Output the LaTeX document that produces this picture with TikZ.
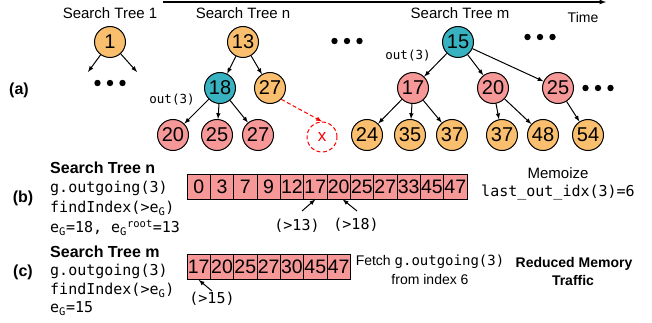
\documentclass[tikz,border=0pt]{standalone}
\usepackage{fontspec}
\setmainfont{Liberation Sans}
\setmonofont{DejaVu Sans Mono}

\definecolor{orangefill}{RGB}{249,191,110}
\definecolor{tuerkisfill}{RGB}{56,178,192}
\definecolor{rosafill}{RGB}{247,152,152}

\begin{document}
\begin{tikzpicture}[x=1pt,y=-1pt]
				% Einstellungen für Knoten, Kästchen und Texte
				\tikzset{
					knoten/.style={circle, draw=black, line width=1pt, minimum size=31pt, inner sep=0pt, font=\fontsize{20}{20}\selectfont}, % Kreis im Suchbaum
					orangeknoten/.style={knoten, fill=orangefill},
					tuerkisknoten/.style={knoten, fill=tuerkisfill},
					rosaknoten/.style={knoten, fill=rosafill},
					zelle/.style={draw=black, fill=rosafill, line width=0.8pt, minimum width=23.33pt, minimum height=25pt, inner sep=0pt, font=\fontsize{19.5}{19.5}\selectfont}, % Kästchen im Array
					kante/.style={-latex, line width=1pt}, % Pfeil im Baum
					titel/.style={font=\fontsize{15}{15}\selectfont, inner sep=0pt},
					fett/.style={font=\fontsize{16}{16}\selectfont\bfseries, inner sep=0pt},
					code/.style={font=\fontsize{15}{15}\selectfont\ttfamily, inner sep=0pt},
					punkt/.style={fill=black}
				}
				\useasboundingbox (0,0) rectangle (652,323);
				
				% Zeitachse
				\coordinate (zeitA) at (163,2);
				\coordinate (zeitB) at (606,2);
				\draw[-latex, line width=1.2pt] (zeitA) -- (zeitB);
				\node[titel, font=\fontsize{14}{14}\selectfont] (zeit) at (583,17) {Time};
				
				% Überschriften der Suchbäume
				\node[titel] (titel1) at (110,13) {Search Tree 1};
				\node[titel] (titeln) at (243,13) {Search Tree n};
				\node[titel] (titelm) at (460,13) {Search Tree m};
				\node[fett] (teila) at (19,90) {(a)};
				
				% Suchbaum 1
				\node[orangeknoten] (e1) at (110,42) {1};
				\coordinate (e1l) at (88,72);
				\coordinate (e1r) at (137,72);
				\draw[kante] (e1) -- (e1l);
				\draw[kante] (e1) -- (e1r);
				
				% Pünktchen
				\foreach \px/\py in {110/83, 347/41, 540/37, 598/88} {
					\foreach \d in {-12.5,0,12.5} {
						\fill[punkt] (\px+\d,\py) circle[radius=3.2pt];
					}
				}
				
				% Suchbaum n
				\node[orangeknoten] (n13) at (243,42) {13};
				\node[tuerkisknoten] (n18) at (220,88) {18};
				\node[orangeknoten] (n27) at (270,88) {27};
				\node[rosaknoten] (n20) at (173,135) {20};
				\node[rosaknoten] (n25) at (217,135) {25};
				\node[rosaknoten] (n27b) at (258,135) {27};
				\node[knoten, draw=red, dash pattern=on 4pt off 2.5pt, fill=none, text=red, minimum size=30pt, font=\fontsize{17}{17}\selectfont] (nx) at (322,137) {x};
				\draw[kante] (n13) -- (n18);
				\draw[kante] (n13) -- (n27);
				\draw[kante] (n18) -- (n20);
				\draw[kante] (n18) -- (n25);
				\draw[kante] (n18) -- (n27b);
				\draw[kante, red, dash pattern=on 4pt off 2.5pt] (n27.south east) -- (nx.north);
				\node[code, font=\fontsize{12.5}{12.5}\selectfont\ttfamily] (outn) at (172,100) {out(3)};
				
				% Suchbaum m
				\node[tuerkisknoten] (m15) at (458,42) {15};
				\node[rosaknoten] (m17) at (413,88) {17};
				\node[rosaknoten] (m20) at (493,88) {20};
				\node[rosaknoten] (m25) at (558,88) {25};
				\node[orangeknoten] (m24) at (367,135) {24};
				\node[orangeknoten] (m35) at (410,135) {35};
				\node[orangeknoten] (m37) at (452,135) {37};
				\node[orangeknoten] (m37b) at (502,135) {37};
				\node[orangeknoten] (m48) at (543,135) {48};
				\node[orangeknoten] (m54) at (588,135) {54};
				\foreach \von/\nach in {m15/m17, m15/m20, m15/m25, m17/m24, m17/m35, m17/m37, m20/m37b, m20/m48, m25/m54} {
					\draw[kante] (\von) -- (\nach);
				}
				\node[code, font=\fontsize{12.5}{12.5}\selectfont\ttfamily] (outm) at (408,56) {out(3)};
				
				% Teil (b)
				\node[fett] (teilb) at (23,198) {(b)};
				\node[fett, anchor=west] (bt1) at (50,168) {Search Tree n};
				\node[code, anchor=west] (bt2) at (50,188) {g.outgoing(3)};
				\node[code, anchor=west] (bt3) at (50,208) {findIndex(>e\textsubscript{G})};
				\node[code, anchor=west] (bt4) at (50,228) {e\textsubscript{G}=18, e\textsubscript{G}\textsuperscript{root}=13};
				
				% 12 Kästchen erzeugen
				\foreach \wert [count=\i from 0] in {0,3,7,9,12,17,20,25,27,33,45,47} {
					\node[zelle] (b\i) at (198.67+\i*23.33,186.5) {\wert}; % Kästchen mit Wert
				}
				\coordinate (b13) at (302,211);
				\coordinate (b18) at (357,211);
				\draw[-latex, line width=1pt] (b13) -- (b5.south);
				\draw[-latex, line width=1pt] (b18) -- ([xshift=4pt]b6.south);
				\node[code] (g13) at (297,226) {(>13)};
				\node[code] (g18) at (356,225) {(>18)};
				\node[titel] (memo) at (558,173) {Memoize};
				\node[code] (memoidx) at (558,193) {last\_out\_idx(3)=6};
				
				% Teil (c)
				\node[fett] (teilc) at (23,272) {(c)};
				\node[fett, anchor=west] (ct1) at (50,252) {Search Tree m};
				\node[code, anchor=west] (ct2) at (50,271) {g.outgoing(3)};
				\node[code, anchor=west] (ct3) at (50,290) {findIndex(>e\textsubscript{G})};
				\node[code, anchor=west] (ct4) at (50,309) {e\textsubscript{G}=15};
				
				% 7 Kästchen erzeugen
				\foreach \wert [count=\i from 0] in {17,20,25,27,30,45,47} {
					\node[zelle] (c\i) at (198.67+\i*23.33,267) {\wert}; % Kästchen mit Wert
				}
				\coordinate (c15) at (212,291);
				\draw[-latex, line width=1pt] (c15) -- (c0.south);
				\node[code] (g15) at (212,299) {(>15)};
				\node[titel, font=\fontsize{14}{14}\selectfont] (fetch) at (430,262) {Fetch \texttt{g.outgoing(3)}};
				\node[titel, font=\fontsize{14}{14}\selectfont] (fetch2) at (430,279) {from index 6};
				\node[fett, font=\fontsize{14}{14}\selectfont\bfseries] (reduz) at (574,264) {Reduced Memory};
				\node[fett, font=\fontsize{14}{14}\selectfont\bfseries] (reduz2) at (573,280) {Traffic};
			\end{tikzpicture}
\end{document}
